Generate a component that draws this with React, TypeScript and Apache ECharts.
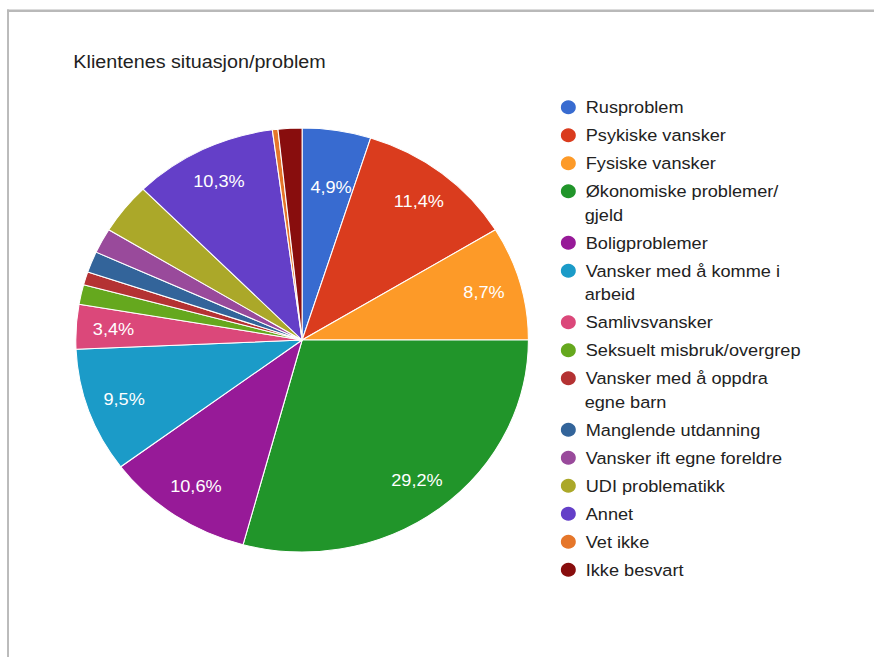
import React, { useEffect, useRef } from 'react';
import * as echarts from 'echarts';

// ---- data ----
const chartTitle = 'Klientenes situasjon/problem';
const categories = [
  'Rusproblem',
  'Psykiske vansker',
  'Fysiske vansker',
  'Økonomiske problemer/gjeld',
  'Boligproblemer',
  'Vansker med å komme i arbeid',
  'Samlivsvansker',
  'Seksuelt misbruk/overgrep',
  'Vansker med å oppdra egne barn',
  'Manglende utdanning',
  'Vansker ift egne foreldre',
  'UDI problematikk',
  'Annet',
  'Vet ikke',
  'Ikke besvart',
];
const values = [4.9, 11.4, 8.7, 29.2, 10.6, 9.5, 3.4, 1.5, 1.0, 1.6, 1.9, 3.9, 10.3, 0.4, 1.7];
const legendLines = [
  ['Rusproblem'],
  ['Psykiske vansker'],
  ['Fysiske vansker'],
  ['Økonomiske problemer/', 'gjeld'],
  ['Boligproblemer'],
  ['Vansker med å komme i', 'arbeid'],
  ['Samlivsvansker'],
  ['Seksuelt misbruk/overgrep'],
  ['Vansker med å oppdra', 'egne barn'],
  ['Manglende utdanning'],
  ['Vansker ift egne foreldre'],
  ['UDI problematikk'],
  ['Annet'],
  ['Vet ikke'],
  ['Ikke besvart'],
];
const labelledSlices = [true, true, true, true, true, true, true, false, false, false, false, false, true, false, false];

// ---- style ----
const colors = [
  '#386bd0', '#da3c1e', '#fd9a28', '#21952a', '#971a98', '#1b9bc8', '#db487a',
  '#65a81e', '#b43233', '#33649a', '#994a9b', '#aba829', '#643fc8', '#e5762a', '#880d0d',
];
const FONT = "'Liberation Sans', Arial, Helvetica, sans-serif";
const SX = 1.0675;
const W = 819;
const H = 657;
const CX = 283;
const CY = 340;
const R = 212;
const LABEL_R = 174;
const LEGEND_ICON_LEFT = 523.4;
const LEGEND_TEXT_X = 547.7;
const LEGEND_FIRST = 107.3;
const LINE_H = 23.5;
const GAP = 4.5;

export default function App() {
  const ref = useRef<HTMLDivElement>(null);

  useEffect(() => {
    if (!ref.current) return;
    const chart = echarts.init(ref.current, null, { renderer: 'svg' });

    const centers: number[] = [];
    let y = LEGEND_FIRST;
    legendLines.forEach((lines) => {
      centers.push(y);
      y += lines.length * LINE_H + GAP;
    });

    const fmt = (v: number) => v.toFixed(1).replace('.', ',') + '%';

    const legends = categories.map((name, i) => ({
      orient: 'vertical',
      left: LEGEND_ICON_LEFT - 5,
      top: centers[i] - 16.75,
      data: [name],
      icon: 'circle',
      itemWidth: 16,
      itemHeight: 16,
      selectedMode: false,
      formatter: () => legendLines[i][0],
      textStyle: {
        fontSize: 17,
        lineHeight: LINE_H,
        color: '#222',
        fontFamily: FONT,
        padding: [0, 0, 0, 3.3],
      },
    }));

    const secondLines: any[] = [];
    legendLines.forEach((lines, i) => {
      if (lines.length > 1) {
        secondLines.push({
          type: 'text',
          x: LEGEND_TEXT_X,
          y: centers[i] + LINE_H,
          style: {
            text: lines[1],
            fontSize: 17,
            fill: '#222',
            fontFamily: FONT,
            verticalAlign: 'middle',
            align: 'left',
          },
        });
      }
    });

    const option: any = {
      animation: false,
      backgroundColor: '#fff',
      color: colors,
      title: {
        text: chartTitle,
        left: 63.7,
        top: 47,
        textStyle: { fontSize: 18.5, fontWeight: 'normal', color: '#222', fontFamily: FONT },
      },
      legend: legends,
      graphic: [
        {
          type: 'line',
          shape: { x1: 6.6, y1: 10.7, x2: W, y2: 10.7 },
          style: { stroke: '#b9b9b9', lineWidth: 2.6 },
          silent: true,
        },
        {
          type: 'line',
          shape: { x1: 7.5, y1: 9.4, x2: 7.5, y2: H },
          style: { stroke: '#b9b9b9', lineWidth: 1.8 },
          silent: true,
        },
        ...secondLines,
      ],
      series: [
        {
          type: 'pie',
          center: [CX, CY],
          radius: [0, R],
          startAngle: 90,
          clockwise: true,
          label: { show: false },
          labelLine: { show: false },
          itemStyle: { borderColor: '#fff', borderWidth: 1 },
          emphasis: { disabled: true },
          data: categories.map((name, i) => ({ name, value: values[i] })),
        },
        {
          type: 'pie',
          silent: true,
          center: [CX, CY],
          radius: [0, LABEL_R * 2],
          startAngle: 90,
          clockwise: true,
          itemStyle: { color: 'rgba(0,0,0,0)', borderWidth: 0 },
          labelLine: { show: false },
          emphasis: { disabled: true },
          label: {
            show: true,
            position: 'inside',
            color: '#fff',
            fontSize: 17,
            fontFamily: FONT,
            formatter: (p: any) => fmt(p.value),
          },
          // the narrow first slice has its label pulled inwards, as in the reference
          labelLayout: (params: any) => (params.dataIndex === 0 ? { dy: 22 } : {}),
          data: categories.map((name, i) => ({
            name,
            value: values[i],
            label: { show: labelledSlices[i] },
          })),
        },
      ],
    };

    chart.setOption(option);
    return () => chart.dispose();
  }, []);

  return (
    <div
      style={{
        position: 'absolute',
        left: 0,
        top: 0,
        width: 874,
        height: 657,
        overflow: 'hidden',
        background: '#fff',
      }}
    >
      <div
        ref={ref}
        style={{ width: W, height: H, transform: `scaleX(${SX})`, transformOrigin: '0 0' }}
      />
    </div>
  );
}
